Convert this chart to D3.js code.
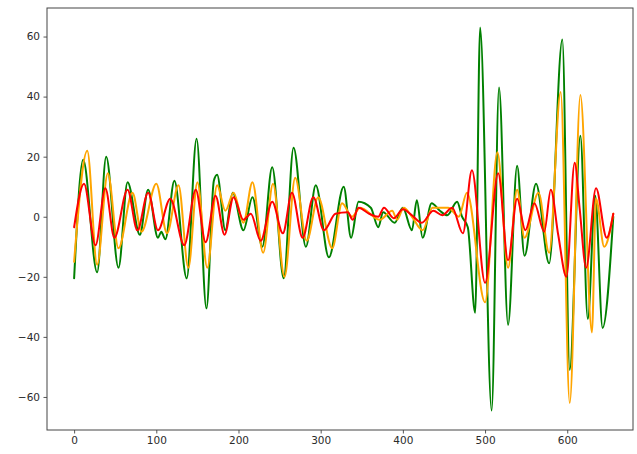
<!DOCTYPE html>
<html>
<head>
<meta charset="utf-8">
<script src="https://cdn.jsdelivr.net/npm/d3@7"></script>
<style>
  html, body { margin: 0; padding: 0; background: #fff; }
  svg { display: block; }
  .tick text { font-family: "DejaVu Sans", sans-serif; font-size: 10.5px; fill: #2b2b2b; }
  .tick line { stroke: #444; stroke-width: 0.9; }
</style>
</head>
<body>
<svg id="chart" width="637" height="454"></svg>
<script>
// Tick values for both axes
const xTicks = [0, 100, 200, 300, 400, 500, 600];
const yTicks = [-60, -40, -20, 0, 20, 40, 60];

// Turning points of each signal, as [sample index, value]
const greenSeries = [
  [0, -20.5], [11, 19], [28, -18.5], [39, 20], [54, -17], [65, 11.5], [80, -6], [90, 9],
  [102, -7], [106, -5], [111, -7.5], [122, 12], [137, -20.5], [149, 26], [161, -30.5],
  [170, 12], [174, 14], [184, -4.5], [193, 8], [206, -4.5], [217, 6.5], [229, -10],
  [241, 16.5], [255, -20.5], [267, 23], [282, -10], [294, 10.5], [310, -13.5], [328, 10],
  [337, -7], [346, 5], [361, 3], [370, -3.5], [376, 1.5], [390, -2], [400, 3], [411, -4.5],
  [417, 5.5], [424, -7], [435, 4.5], [445, 2], [454, 0.5], [466, 5], [472, 0], [479, -3.5],
  [488, -32], [494, 63], [508, -64.5], [517, 43], [528, -36], [539, 17], [548, -13],
  [562, 11], [578, -15.5], [594, 59], [603, -51], [616, 27], [625, -34], [634, 7],
  [643, -37], [656, 0]
];

const orangeSeries = [
  [0, -15], [16, 22], [28, -16], [41, 14.5], [54, -10.5], [71, 8], [82, -5], [100, 11],
  [113, -5.5], [127, 10.5], [139, -17], [150, 11.5], [162, -17], [174, 10.5], [184, 2],
  [194, 8], [206, -2], [217, 11.5], [230, -12], [242, 11], [256, -20], [269, 13],
  [283, -8], [297, 6.5], [314, -10.5], [326, 4.5], [338, 0], [348, 3], [372, -1],
  [387, 2], [393, -1], [401, 3], [411, 0], [424, -4.5], [436, 3], [455, 3], [468, 0],
  [478, 8], [500, -28.5], [515, 21.5], [528, -17], [539, 9], [548, -7], [565, 8],
  [578, -12], [592, 41.5], [603, -62], [616, 40.5], [630, -38.5], [635, 6], [645, -10],
  [656, 1]
];

const redSeries = [
  [0, -3.5], [12, 11], [26, -9.5], [38, 9.5], [49, -7], [65, 9], [77, -4.5], [90, 8],
  [102, -4.5], [117, 6], [134, -9.5], [148, 9], [160, -8.5], [172, 7], [183, -6],
  [194, 6.5], [206, -1], [215, 1], [227, -8], [241, 5], [254, -5.5], [265, 8],
  [278, -7], [291, 6.5], [304, -4.5], [318, 1], [333, 1.5], [339, -1], [346, 3],
  [359, 1], [370, 0], [377, 3], [389, -0.5], [400, 2.5], [411, 0.5], [423, -2],
  [437, 2], [448, 0.5], [460, 3], [473, -5.5], [484, 15.5], [500, -22], [516, 14.5],
  [528, -14.5], [539, 6], [549, -4.5], [560, 4.5], [572, -5], [580, 9], [589, -6],
  [599, -20], [609, 18], [615, 3], [623, -17], [635, 9.5], [648, -7], [656, 1]
];

const seriesColors = ["green", "orange", "red"];
const allSeries = [greenSeries, orangeSeries, redSeries];

// Plot frame
const frame = { left: 47, top: 8, right: 633, bottom: 430 };

const svg = d3.select("#chart");

const x = d3.scaleLinear().domain([-33, 680]).range([frame.left, frame.right]);
const y = d3.scaleLinear().domain([-71, 69.5]).range([frame.bottom, frame.top]);

// Axes
const xAxis = d3.axisBottom(x).tickValues(xTicks).tickSize(3.5).tickPadding(3.5)
  .tickFormat(d3.format("d"));
const yAxis = d3.axisLeft(y).tickValues(yTicks).tickSize(3.5).tickPadding(3.5)
  .tickFormat(d3.format("d"));

svg.append("g")
  .attr("transform", `translate(0,${frame.bottom})`)
  .call(xAxis)
  .call(g => g.select(".domain").remove());

svg.append("g")
  .attr("transform", `translate(${frame.left},0)`)
  .call(yAxis)
  .call(g => g.select(".domain").remove());

// Clip lines to the plot area
svg.append("clipPath").attr("id", "plot-clip")
  .append("rect")
  .attr("x", frame.left).attr("y", frame.top)
  .attr("width", frame.right - frame.left)
  .attr("height", frame.bottom - frame.top);

const line = d3.line()
  .x(d => x(d[0]))
  .y(d => y(d[1]))
  .curve(d3.curveMonotoneX);

svg.append("g")
  .attr("clip-path", "url(#plot-clip)")
  .selectAll("path")
  .data(allSeries)
  .join("path")
  .attr("d", line)
  .attr("fill", "none")
  .attr("stroke", (d, i) => seriesColors[i])
  .attr("stroke-width", 2)
  .attr("stroke-linejoin", "round")
  .attr("stroke-linecap", "round");

// Axes frame
svg.append("rect")
  .attr("x", frame.left).attr("y", frame.top)
  .attr("width", frame.right - frame.left)
  .attr("height", frame.bottom - frame.top)
  .attr("fill", "none")
  .attr("stroke", "#444")
  .attr("stroke-width", 1);
</script>
</body>
</html>
